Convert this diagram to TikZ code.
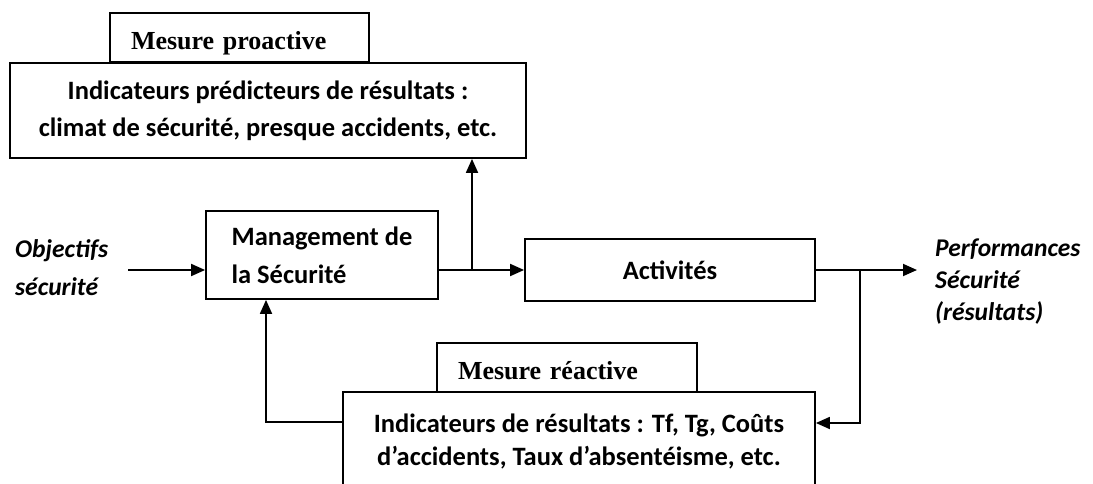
\documentclass[tikz,border=0pt]{standalone}
\usepackage{fontspec}
\setmainfont{Carlito}
\newfontfamily\timesfont{Liberation Serif}
\usetikzlibrary{arrows.meta}

\begin{document}
\begin{tikzpicture}[x=1pt,y=-1pt,
  frame/.style={draw=black, line width=1.8pt, inner sep=0pt, align=center,
    font=\bfseries\fontsize{26.5}{37}\selectfont},
  tag/.style={draw=black, line width=1.8pt, inner xsep=21pt, inner ysep=0pt,
    align=left, text depth=0pt, font=\timesfont\bfseries\fontsize{26}{30}\selectfont},
  caption/.style={inner sep=0pt, align=left,
    font=\bfseries\itshape\fontsize{25.5}{38}\selectfont},
  link/.style={line width=1.8pt, -{Triangle[length=14pt,width=12pt]}}]

\useasboundingbox (0,0) rectangle (1093,484);
\clip (0,0) rectangle (1093,484);

% proactive branch
\node[frame, minimum width=516pt, minimum height=95pt] (pred) at (268,110.5)
  {Indicateurs prédicteurs de résultats :\\climat de sécurité, presque accidents, etc.};
\node[tag, text width=217pt, text height=25pt, minimum height=49pt] (pro) at (239.5,37.5)
  {Mesure proactive};

% main chain
\node[frame, minimum width=232pt, minimum height=88pt, align=left,
  font=\bfseries\fontsize{26.5}{38}\selectfont] (mgmt) at (322,255)
  {Management de\\la Sécurité};
\node[frame, minimum width=290pt, minimum height=62pt] (act) at (670,270) {Activités};

% reactive branch
\node[frame, minimum width=472pt, minimum height=98pt,
  font=\bfseries\fontsize{26.5}{33}\selectfont] (res) at (579,441)
  {Indicateurs de résultats : Tf, Tg, Coûts\\d’accidents, Taux d’absentéisme, etc.};
\node[tag, text width=218pt, text height=23pt, minimum height=49pt] (rea) at (567,367.5)
  {Mesure réactive};

% inputs and outputs
\node[caption, anchor=west] (obj) at (15,268) {Objectifs\\sécurité};
\node[caption, anchor=west, font=\bfseries\itshape\fontsize{25.5}{32}\selectfont] (perf)
  at (935,282) {Performances\\Sécurité\\(résultats)};

\coordinate (in) at (128,270);
\coordinate (split) at (472,270);
\coordinate (out) at (917,270);
\coordinate (tap) at (860,270);
\coordinate (ret) at (860,423);
\coordinate (back) at (266,422);

\draw[link] (in) -- (mgmt.west |- in);
\draw[link] (mgmt.east |- act.west) -- (act.west);
\draw[link] (split) -- (pred.south -| split);
\draw[link] (act.east) -- (out);
\draw[link] (tap) -- (ret) -- (res.east |- ret);
\draw[link] (res.west |- back) -- (back) -- (mgmt.south -| back);
\end{tikzpicture}
\end{document}
